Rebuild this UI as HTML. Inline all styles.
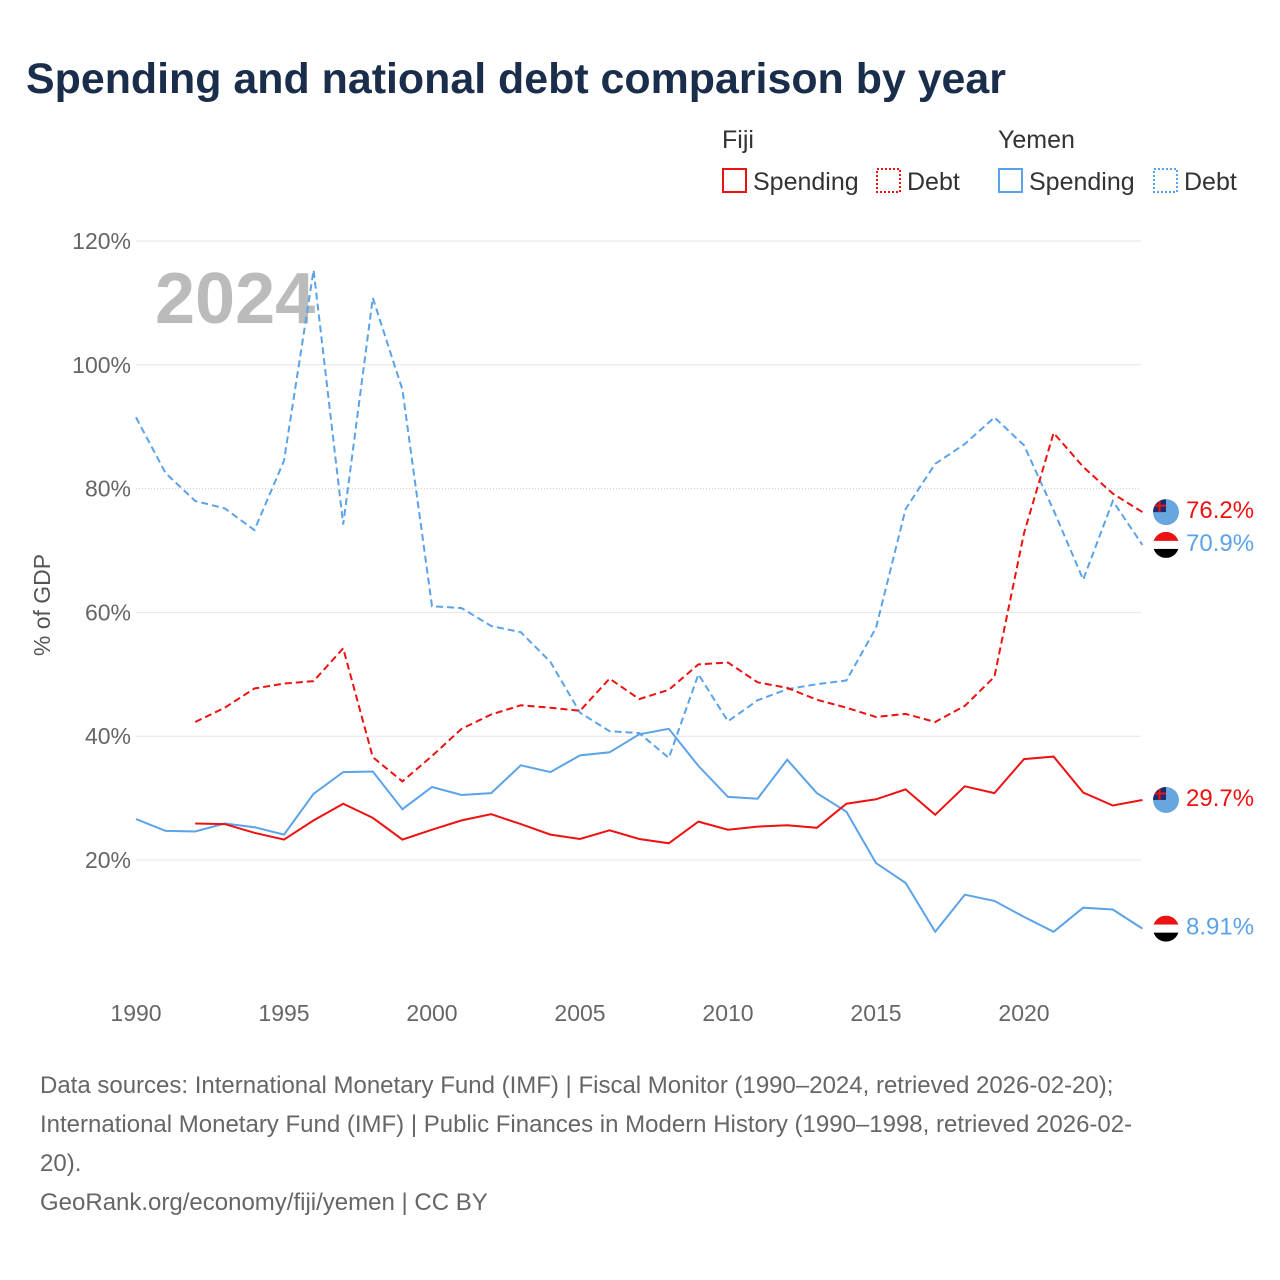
<!DOCTYPE html>
<html><head><meta charset="utf-8">
<style>
body{margin:0;background:#fff;font-family:"Liberation Sans",sans-serif;}
#wrap{position:relative;width:1280px;height:1280px;overflow:hidden}
</style></head>
<body>
<div id="wrap">
<svg id="chart" width="1280" height="1280" xmlns="http://www.w3.org/2000/svg">
<defs>
<clipPath id="cf"><circle cx="0" cy="0" r="13"/></clipPath>
</defs>
<text x="26" y="93" font-size="43" font-weight="bold" fill="#1a2e4c" textLength="980" lengthAdjust="spacingAndGlyphs">Spending and national debt comparison by year</text>
<g font-size="25" fill="#333">
<text x="722" y="148">Fiji</text>
<text x="998" y="148">Yemen</text>
<g><rect x="723" y="169" width="23" height="23" fill="none" stroke="#ee1111" stroke-width="2"/><text x="753" y="190">Spending</text></g>
<g><rect x="877" y="169" width="23" height="23" fill="none" stroke="#ee1111" stroke-width="2" stroke-dasharray="2,2"/><text x="907" y="190">Debt</text></g>
<g><rect x="999" y="169" width="23" height="23" fill="none" stroke="#5ba3e8" stroke-width="2"/><text x="1029" y="190">Spending</text></g>
<g><rect x="1154" y="169" width="23" height="23" fill="none" stroke="#5ba3e8" stroke-width="2" stroke-dasharray="2,2"/><text x="1184" y="190">Debt</text></g>
</g>
<text x="155" y="323" font-size="72" font-weight="bold" fill="#bbb">2024</text>
<g id="grid"></g>
<g id="series"></g>
<g id="ends"></g>
<text transform="translate(50,605) rotate(-90)" text-anchor="middle" font-size="23" fill="#555">% of GDP</text>
<g font-size="24" fill="#666">
<text x="40" y="1093">Data sources: International Monetary Fund (IMF) | Fiscal Monitor (1990–2024, retrieved 2026-02-20);</text>
<text x="40" y="1132">International Monetary Fund (IMF) | Public Finances in Modern History (1990–1998, retrieved 2026-02-</text>
<text x="40" y="1171">20).</text>
<text x="40" y="1210">GeoRank.org/economy/fiji/yemen | CC BY</text>
</g>
</svg>
</div>
<script>
const yTicks=[20,40,60,80,100,120];
const xTicks=[1990,1995,2000,2005,2010,2015,2020];
const yemenYears0=1990;
const fijiYears0=1992;
const yemenDebt=[91.5,82.5,78,76.8,73.3,84.5,115.3,74.2,110.8,96,61,60.7,57.8,56.8,52,43.8,40.8,40.5,36.5,50,42.4,45.8,47.6,48.4,49,57.5,76.7,84,87.2,91.5,87,76.5,65.3,78,70.9];
const yemenSpending=[26.6,24.7,24.6,25.9,25.3,24.1,30.7,34.2,34.3,28.2,31.8,30.5,30.8,35.3,34.2,36.9,37.4,40.3,41.2,35.2,30.2,29.9,36.2,30.8,27.8,19.5,16.3,8.4,14.4,13.4,10.8,8.4,12.3,12,8.91];
const fijiSpending=[25.9,25.8,24.4,23.3,26.4,29.1,26.8,23.3,24.9,26.4,27.4,25.8,24.1,23.4,24.8,23.4,22.7,26.2,24.9,25.4,25.6,25.2,29.1,29.8,31.4,27.3,31.9,30.8,36.3,36.7,30.9,28.8,29.7];
const fijiDebt=[42.3,44.6,47.7,48.5,48.9,54.2,36.6,32.7,36.8,41.2,43.5,45,44.6,44.1,49.3,46,47.5,51.6,51.9,48.7,47.8,45.9,44.6,43.1,43.6,42.3,44.9,49.6,72.8,89,83.5,79.2,76.2];
const endLabels=["76.2%","70.9%","29.7%","8.91%"];

const NS="http://www.w3.org/2000/svg";
const X=y=>136+(y-1990)*29.6;
const Y=v=>860-(v-20)*6.19;
function mk(t,a,p){const e=document.createElementNS(NS,t);for(const k in a)e.setAttribute(k,a[k]);p.appendChild(e);return e;}
const grid=document.getElementById('grid');
yTicks.forEach(v=>{
  const l=mk('line',{x1:136,x2:1141,y1:Y(v),y2:Y(v),stroke:v==80?'#ccc':'#e6e6e6','stroke-width':1,'stroke-dasharray':v==80?'1,2':'none'},grid);
  
  
  const t=mk('text',{x:131,y:Y(v)+8,'text-anchor':'end','font-size':23,fill:'#666'},grid);
  t.textContent=v+'%';
  
  
});
xTicks.forEach(v=>{
  const t=mk('text',{x:X(v),y:1021,'text-anchor':'middle','font-size':23,fill:'#666'},grid);
  t.textContent=v;
  
  
});
const ser=document.getElementById('series');
function line(arr,y0,color,dash,name){
  const d=arr.map((v,i)=>(i?'L':'M')+X(y0+i).toFixed(1)+','+Y(v).toFixed(1)).join('');
  const p=mk('path',{d:d,fill:'none',stroke:color,'stroke-width':2,'stroke-dasharray':dash},ser);
  
  
}
line(yemenDebt,yemenYears0,'#5ba3e8','7,4','yemen-debt-line');
line(yemenSpending,yemenYears0,'#5ba3e8','none','yemen-spending-line');
line(fijiDebt,fijiYears0,'#ee1111','7,4','fiji-debt-line');
line(fijiSpending,fijiYears0,'#ee1111','none','fiji-spending-line');
const ends=document.getElementById('ends');
const endVals=[fijiDebt[fijiDebt.length-1],yemenDebt[yemenDebt.length-1],fijiSpending[fijiSpending.length-1],yemenSpending[yemenSpending.length-1]];
const endColors=['#ee1111','#5ba3e8','#ee1111','#5ba3e8'];
const endFlags=['fiji','yemen','fiji','yemen'];
endVals.forEach((v,i)=>{
  const cy=Y(v), cx=1166;
  const g=mk('g',{transform:`translate(${cx},${cy})`},ends);
  
  
  const gc=mk('g',{'clip-path':'url(#cf)'},g);
  if(endFlags[i]=='yemen'){
    mk('rect',{x:-13,y:-13,width:26,height:9,fill:'#ee1111'},gc);
    mk('rect',{x:-13,y:-4,width:26,height:8,fill:'#fff'},gc);
    mk('rect',{x:-13,y:4,width:26,height:9,fill:'#000'},gc);
  } else {
    mk('rect',{x:-13,y:-13,width:26,height:26,fill:'#68a6e0'},gc);
    mk('rect',{x:-13,y:-13,width:13,height:13,fill:'#1a2e6c'},gc);
    mk('path',{d:'M-13,-6.5H0M-6.5,-13V0',stroke:'#ee1111','stroke-width':2},gc);
  }
  const t=mk('text',{x:1186,y:Y(v)+6,'font-size':24,fill:endColors[i]},ends);
  t.textContent=endLabels[i];
  
  
});
</script>
</body></html>
